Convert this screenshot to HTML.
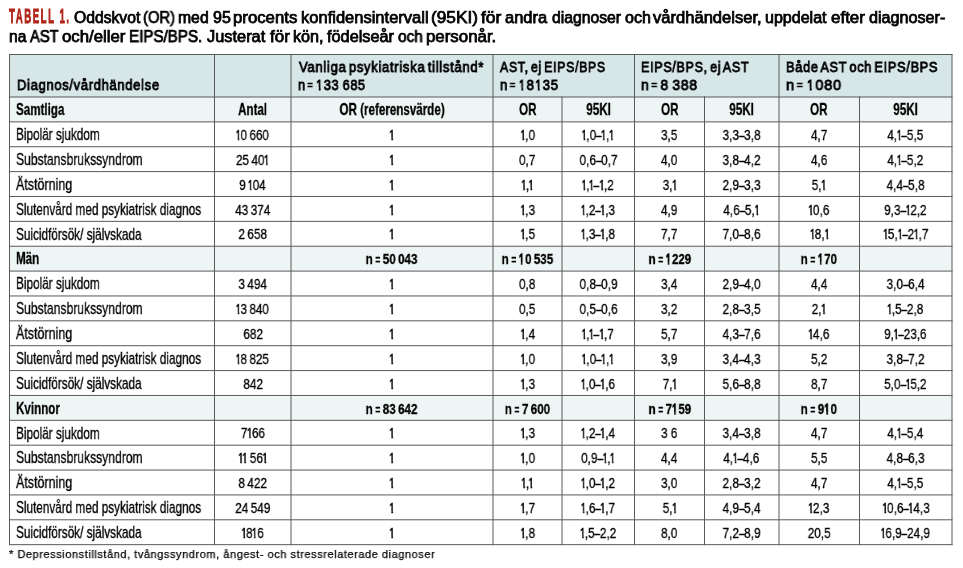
<!DOCTYPE html>
<html><head><meta charset="utf-8"><title>Tabell 1</title>
<style>
html,body{margin:0;padding:0;background:#fff;}
#pg{position:relative;width:963px;height:568px;overflow:hidden;background:#fff;font-family:"Liberation Sans", sans-serif;}
.t{position:absolute;white-space:pre;-webkit-text-stroke:0.3px currentColor;}
.t span{display:inline-block;will-change:transform;}
.t.c{width:400px;text-align:center;}
.d{display:inline-block;font-style:normal;transform:scaleX(0.85);margin:0 -0.8px;}
.oh{margin:0 0.01em !important;-webkit-text-stroke:0.07em #000 !important;}
.ob{-webkit-text-stroke:0.1em #000 !important;margin:0 0.02em 0 -0.04em !important;}
.eq{display:inline-block;font-style:normal;transform:scale(0.72,0.85);transform-origin:50% 0.6em;margin:0 -0.06em;}
.o{display:inline-block;font-style:normal;font-weight:400;transform:scale(0.8,0.96);transform-origin:50% 0.846em;margin:0 -0.087em;-webkit-text-stroke:0.05em #000;clip-path:polygon(0 -0.4em,100% -0.4em,100% 0.68em,68% 0.68em,68% 1.3em,38% 1.3em,38% 0.68em,0 0.68em);}
</style></head><body><div id="pg">
<svg width="963" height="568" style="position:absolute;left:0;top:0"><rect x="9.5" y="54.5" width="942.50" height="42.50" fill="#d7e6e6"/><rect x="9.5" y="97.0" width="942.50" height="24.87" fill="#eef5f5"/><rect x="9.5" y="246.22" width="942.50" height="24.87" fill="#eef5f5"/><rect x="9.5" y="395.44" width="942.50" height="24.87" fill="#eef5f5"/><rect x="9.00" y="54.00" width="943.50" height="1" fill="#5a5a5a"/><rect x="9.00" y="96.50" width="943.50" height="1" fill="#5a5a5a"/><rect x="9.00" y="121.37" width="943.50" height="1" fill="#5a5a5a"/><rect x="9.00" y="146.24" width="943.50" height="1" fill="#5a5a5a"/><rect x="9.00" y="171.11" width="943.50" height="1" fill="#5a5a5a"/><rect x="9.00" y="195.98" width="943.50" height="1" fill="#5a5a5a"/><rect x="9.00" y="220.85" width="943.50" height="1" fill="#5a5a5a"/><rect x="9.00" y="245.72" width="943.50" height="1" fill="#5a5a5a"/><rect x="9.00" y="270.59" width="943.50" height="1" fill="#5a5a5a"/><rect x="9.00" y="295.46" width="943.50" height="1" fill="#5a5a5a"/><rect x="9.00" y="320.33" width="943.50" height="1" fill="#5a5a5a"/><rect x="9.00" y="345.20" width="943.50" height="1" fill="#5a5a5a"/><rect x="9.00" y="370.07" width="943.50" height="1" fill="#5a5a5a"/><rect x="9.00" y="394.94" width="943.50" height="1" fill="#5a5a5a"/><rect x="9.00" y="419.81" width="943.50" height="1" fill="#5a5a5a"/><rect x="9.00" y="444.68" width="943.50" height="1" fill="#5a5a5a"/><rect x="9.00" y="469.55" width="943.50" height="1" fill="#5a5a5a"/><rect x="9.00" y="494.42" width="943.50" height="1" fill="#5a5a5a"/><rect x="9.00" y="519.29" width="943.50" height="1" fill="#5a5a5a"/><rect x="9.00" y="544.16" width="943.50" height="1" fill="#5a5a5a"/><rect x="9.00" y="54.00" width="1" height="491.16" fill="#5a5a5a"/><rect x="214.00" y="54.00" width="1" height="491.16" fill="#5a5a5a"/><rect x="290.50" y="54.00" width="1" height="491.16" fill="#5a5a5a"/><rect x="492.50" y="54.00" width="1" height="491.16" fill="#5a5a5a"/><rect x="561.50" y="96.50" width="1" height="448.66" fill="#5a5a5a"/><rect x="634.00" y="54.00" width="1" height="491.16" fill="#5a5a5a"/><rect x="704.00" y="96.50" width="1" height="448.66" fill="#5a5a5a"/><rect x="778.50" y="54.00" width="1" height="491.16" fill="#5a5a5a"/><rect x="859.00" y="96.50" width="1" height="448.66" fill="#5a5a5a"/><rect x="951.50" y="54.00" width="1" height="491.16" fill="#5a5a5a"/></svg>
<div class="t" style="left:9.00px;top:6.68px;font-size:19.4px;line-height:19.4px;font-weight:700;color:#b0261a"><span style="transform:scaleX(0.5);transform-origin:0 0;letter-spacing:3.0px;-webkit-text-stroke:0.8px currentColor;">TABELL 1.</span></div><div class="t" style="left:73.80px;top:9.99px;font-size:15.6px;line-height:15.6px;font-weight:400;color:#000"><span style="transform:scaleX(1.006);transform-origin:0 0;-webkit-text-stroke:0.75px currentColor;">Oddskvot</span></div><div class="t" style="left:143.25px;top:9.99px;font-size:15.6px;line-height:15.6px;font-weight:400;color:#000"><span style="transform:scaleX(0.95);transform-origin:0 0;-webkit-text-stroke:0.75px currentColor;">(OR)</span></div><div class="t" style="left:177.79px;top:9.99px;font-size:15.6px;line-height:15.6px;font-weight:400;color:#000"><span style="transform:scaleX(1.01);transform-origin:0 0;-webkit-text-stroke:0.75px currentColor;">med</span></div><div class="t" style="left:212.80px;top:9.99px;font-size:15.6px;line-height:15.6px;font-weight:400;color:#000"><span style="transform:scaleX(1.029);transform-origin:0 0;-webkit-text-stroke:0.75px currentColor;">95</span></div><div class="t" style="left:232.63px;top:9.99px;font-size:15.6px;line-height:15.6px;font-weight:400;color:#000"><span style="transform:scaleX(1.075);transform-origin:0 0;-webkit-text-stroke:0.75px currentColor;">procents</span></div><div class="t" style="left:300.74px;top:9.99px;font-size:15.6px;line-height:15.6px;font-weight:400;color:#000"><span style="transform:scaleX(1.059);transform-origin:0 0;-webkit-text-stroke:0.75px currentColor;">konfidensintervall</span></div><div class="t" style="left:431.40px;top:9.99px;font-size:15.6px;line-height:15.6px;font-weight:400;color:#000"><span style="transform:scaleX(1.105);transform-origin:0 0;-webkit-text-stroke:0.75px currentColor;">(95KI)</span></div><div class="t" style="left:481.10px;top:9.99px;font-size:15.6px;line-height:15.6px;font-weight:400;color:#000"><span style="transform:scaleX(1.12);transform-origin:0 0;-webkit-text-stroke:0.75px currentColor;">för</span></div><div class="t" style="left:504.70px;top:9.99px;font-size:15.6px;line-height:15.6px;font-weight:400;color:#000"><span style="transform:scaleX(1.055);transform-origin:0 0;-webkit-text-stroke:0.75px currentColor;">andra</span></div><div class="t" style="left:551.50px;top:9.99px;font-size:15.6px;line-height:15.6px;font-weight:400;color:#000"><span style="transform:scaleX(1.009);transform-origin:0 0;-webkit-text-stroke:0.75px currentColor;">diagnoser</span></div><div class="t" style="left:625.10px;top:9.99px;font-size:15.6px;line-height:15.6px;font-weight:400;color:#000"><span style="transform:scaleX(1.028);transform-origin:0 0;-webkit-text-stroke:0.75px currentColor;">och</span></div><div class="t" style="left:653.40px;top:9.99px;font-size:15.6px;line-height:15.6px;font-weight:400;color:#000"><span style="transform:scaleX(1.062);transform-origin:0 0;-webkit-text-stroke:0.75px currentColor;">vårdhändelser,</span></div><div class="t" style="left:765.07px;top:9.99px;font-size:15.6px;line-height:15.6px;font-weight:400;color:#000"><span style="transform:scaleX(1.029);transform-origin:0 0;-webkit-text-stroke:0.75px currentColor;">uppdelat</span></div><div class="t" style="left:830.80px;top:9.99px;font-size:15.6px;line-height:15.6px;font-weight:400;color:#000"><span style="transform:scaleX(1.087);transform-origin:0 0;-webkit-text-stroke:0.75px currentColor;">efter</span></div><div class="t" style="left:869.10px;top:9.99px;font-size:15.6px;line-height:15.6px;font-weight:400;color:#000"><span style="transform:scaleX(1.036);transform-origin:0 0;-webkit-text-stroke:0.75px currentColor;">diagnoser-</span></div><div class="t" style="left:8.71px;top:28.99px;font-size:15.6px;line-height:15.6px;font-weight:400;color:#000"><span style="transform:scaleX(0.994);transform-origin:0 0;-webkit-text-stroke:0.75px currentColor;">na</span></div><div class="t" style="left:30.00px;top:28.99px;font-size:15.6px;line-height:15.6px;font-weight:400;color:#000"><span style="transform:scaleX(0.943);transform-origin:0 0;-webkit-text-stroke:0.75px currentColor;">AST</span></div><div class="t" style="left:61.70px;top:28.99px;font-size:15.6px;line-height:15.6px;font-weight:400;color:#000"><span style="transform:scaleX(1.075);transform-origin:0 0;-webkit-text-stroke:0.75px currentColor;">och/eller</span></div><div class="t" style="left:129.13px;top:28.99px;font-size:15.6px;line-height:15.6px;font-weight:400;color:#000"><span style="transform:scaleX(0.971);transform-origin:0 0;-webkit-text-stroke:0.75px currentColor;">EIPS/BPS.</span></div><div class="t" style="left:206.70px;top:28.99px;font-size:15.6px;line-height:15.6px;font-weight:400;color:#000"><span style="transform:scaleX(1.05);transform-origin:0 0;-webkit-text-stroke:0.75px currentColor;">Justerat</span></div><div class="t" style="left:270.20px;top:28.99px;font-size:15.6px;line-height:15.6px;font-weight:400;color:#000"><span style="transform:scaleX(1.089);transform-origin:0 0;-webkit-text-stroke:0.75px currentColor;">för</span></div><div class="t" style="left:293.16px;top:28.99px;font-size:15.6px;line-height:15.6px;font-weight:400;color:#000"><span style="transform:scaleX(1.036);transform-origin:0 0;-webkit-text-stroke:0.75px currentColor;">kön,</span></div><div class="t" style="left:327.10px;top:28.99px;font-size:15.6px;line-height:15.6px;font-weight:400;color:#000"><span style="transform:scaleX(1.044);transform-origin:0 0;-webkit-text-stroke:0.75px currentColor;">födelseår</span></div><div class="t" style="left:397.50px;top:28.99px;font-size:15.6px;line-height:15.6px;font-weight:400;color:#000"><span style="transform:scaleX(0.984);transform-origin:0 0;-webkit-text-stroke:0.75px currentColor;">och</span></div><div class="t" style="left:425.52px;top:28.99px;font-size:15.6px;line-height:15.6px;font-weight:400;color:#000"><span style="transform:scaleX(1.081);transform-origin:0 0;-webkit-text-stroke:0.75px currentColor;">personår.</span></div><div class="t" style="left:17.15px;top:77.23px;font-size:15.2px;line-height:15.2px;font-weight:400;color:#000"><span style="transform:scaleX(0.854);transform-origin:0 0;letter-spacing:0.8px;word-spacing:-2.2px;-webkit-text-stroke:0.85px currentColor;">Diagnos/vårdhändelse</span></div><div class="t" style="left:298.70px;top:59.33px;font-size:15.2px;line-height:15.2px;font-weight:400;color:#000"><span style="transform:scaleX(0.86);transform-origin:0 0;letter-spacing:0.8px;word-spacing:-2.2px;-webkit-text-stroke:0.85px currentColor;">Vanliga psykiatriska tillstånd*</span></div><div class="t" style="left:298.08px;top:77.23px;font-size:15.2px;line-height:15.2px;font-weight:400;color:#000"><span style="transform:scaleX(0.8380079999999999);transform-origin:0 0;letter-spacing:0.8px;word-spacing:-2.2px;-webkit-text-stroke:0.85px currentColor;">n <i class="eq">=</i> <i class="o oh">1</i>33 685</span></div><div class="t" style="left:500.40px;top:59.33px;font-size:15.2px;line-height:15.2px;font-weight:400;color:#000"><span style="transform:scaleX(0.814);transform-origin:0 0;letter-spacing:0.8px;word-spacing:-2.2px;-webkit-text-stroke:0.85px currentColor;">AST, ej EIPS/BPS</span></div><div class="t" style="left:499.97px;top:77.23px;font-size:15.2px;line-height:15.2px;font-weight:400;color:#000"><span style="transform:scaleX(0.8631899999999999);transform-origin:0 0;letter-spacing:0.8px;word-spacing:-2.2px;-webkit-text-stroke:0.85px currentColor;">n <i class="eq">=</i> <i class="o oh">1</i>8<i class="o oh">1</i>35</span></div><div class="t" style="left:641.17px;top:59.33px;font-size:15.2px;line-height:15.2px;font-weight:400;color:#000"><span style="transform:scaleX(0.828);transform-origin:0 0;letter-spacing:0.8px;word-spacing:-2.2px;-webkit-text-stroke:0.85px currentColor;">EIPS/BPS, ej AST</span></div><div class="t" style="left:641.13px;top:77.23px;font-size:15.2px;line-height:15.2px;font-weight:400;color:#000"><span style="transform:scaleX(0.9157399999999999);transform-origin:0 0;letter-spacing:0.8px;word-spacing:-2.2px;-webkit-text-stroke:0.85px currentColor;">n <i class="eq">=</i> 8 388</span></div><div class="t" style="left:786.06px;top:59.33px;font-size:15.2px;line-height:15.2px;font-weight:400;color:#000"><span style="transform:scaleX(0.843);transform-origin:0 0;letter-spacing:0.8px;word-spacing:-2.2px;-webkit-text-stroke:0.85px currentColor;">Både AST och EIPS/BPS</span></div><div class="t" style="left:786.10px;top:77.23px;font-size:15.2px;line-height:15.2px;font-weight:400;color:#000"><span style="transform:scaleX(0.9545739999999999);transform-origin:0 0;letter-spacing:0.8px;word-spacing:-2.2px;-webkit-text-stroke:0.85px currentColor;">n <i class="eq">=</i> <i class="o oh">1</i>080</span></div><div class="t" style="left:16.40px;top:102.21px;font-size:15.7px;line-height:15.7px;font-weight:700;color:#000"><span style="transform:scaleX(0.74);transform-origin:0 0;">Samtliga</span></div><div class="t c" style="left:52.75px;top:102.21px;font-size:15.7px;line-height:15.7px;font-weight:700;color:#000"><span style="transform:scaleX(0.74);">Antal</span></div><div class="t c" style="left:192.00px;top:102.21px;font-size:15.7px;line-height:15.7px;font-weight:700;color:#000"><span style="transform:scaleX(0.74);">OR (referensvärde)</span></div><div class="t c" style="left:327.50px;top:102.21px;font-size:15.7px;line-height:15.7px;font-weight:700;color:#000"><span style="transform:scaleX(0.74);">OR</span></div><div class="t c" style="left:398.25px;top:102.21px;font-size:15.7px;line-height:15.7px;font-weight:700;color:#000"><span style="transform:scaleX(0.74);">95KI</span></div><div class="t c" style="left:469.50px;top:102.21px;font-size:15.7px;line-height:15.7px;font-weight:700;color:#000"><span style="transform:scaleX(0.74);">OR</span></div><div class="t c" style="left:541.75px;top:102.21px;font-size:15.7px;line-height:15.7px;font-weight:700;color:#000"><span style="transform:scaleX(0.74);">95KI</span></div><div class="t c" style="left:619.25px;top:102.21px;font-size:15.7px;line-height:15.7px;font-weight:700;color:#000"><span style="transform:scaleX(0.74);">OR</span></div><div class="t c" style="left:705.75px;top:102.21px;font-size:15.7px;line-height:15.7px;font-weight:700;color:#000"><span style="transform:scaleX(0.74);">95KI</span></div><div class="t" style="left:16.40px;top:127.08px;font-size:15.7px;line-height:15.7px;font-weight:400;color:#000"><span style="transform:scaleX(0.75);transform-origin:0 0;">Bipolär sjukdom</span></div><div class="t c" style="left:52.75px;top:128.01px;font-size:14.6px;line-height:14.6px;font-weight:400;color:#000"><span style="transform:scaleX(0.8065068493150684);"><i class="o">1</i>0 660</span></div><div class="t c" style="left:192.00px;top:128.01px;font-size:14.6px;line-height:14.6px;font-weight:400;color:#000"><span style="transform:scaleX(0.8065068493150684);"><i class="o">1</i></span></div><div class="t c" style="left:327.50px;top:128.01px;font-size:14.6px;line-height:14.6px;font-weight:400;color:#000"><span style="transform:scaleX(0.8065068493150684);"><i class="o">1</i>,0</span></div><div class="t c" style="left:398.25px;top:128.01px;font-size:14.6px;line-height:14.6px;font-weight:400;color:#000"><span style="transform:scaleX(0.8065068493150684);"><i class="o">1</i>,0<i class="d">–</i><i class="o">1</i>,<i class="o">1</i></span></div><div class="t c" style="left:469.50px;top:128.01px;font-size:14.6px;line-height:14.6px;font-weight:400;color:#000"><span style="transform:scaleX(0.8065068493150684);">3,5</span></div><div class="t c" style="left:541.75px;top:128.01px;font-size:14.6px;line-height:14.6px;font-weight:400;color:#000"><span style="transform:scaleX(0.8065068493150684);">3,3<i class="d">–</i>3,8</span></div><div class="t c" style="left:619.25px;top:128.01px;font-size:14.6px;line-height:14.6px;font-weight:400;color:#000"><span style="transform:scaleX(0.8065068493150684);">4,7</span></div><div class="t c" style="left:705.75px;top:128.01px;font-size:14.6px;line-height:14.6px;font-weight:400;color:#000"><span style="transform:scaleX(0.8065068493150684);">4,<i class="o">1</i><i class="d">–</i>5,5</span></div><div class="t" style="left:16.40px;top:151.95px;font-size:15.7px;line-height:15.7px;font-weight:400;color:#000"><span style="transform:scaleX(0.7725);transform-origin:0 0;">Substansbrukssyndrom</span></div><div class="t c" style="left:52.75px;top:152.88px;font-size:14.6px;line-height:14.6px;font-weight:400;color:#000"><span style="transform:scaleX(0.8065068493150684);">25 40<i class="o">1</i></span></div><div class="t c" style="left:192.00px;top:152.88px;font-size:14.6px;line-height:14.6px;font-weight:400;color:#000"><span style="transform:scaleX(0.8065068493150684);"><i class="o">1</i></span></div><div class="t c" style="left:327.50px;top:152.88px;font-size:14.6px;line-height:14.6px;font-weight:400;color:#000"><span style="transform:scaleX(0.8065068493150684);">0,7</span></div><div class="t c" style="left:398.25px;top:152.88px;font-size:14.6px;line-height:14.6px;font-weight:400;color:#000"><span style="transform:scaleX(0.8065068493150684);">0,6<i class="d">–</i>0,7</span></div><div class="t c" style="left:469.50px;top:152.88px;font-size:14.6px;line-height:14.6px;font-weight:400;color:#000"><span style="transform:scaleX(0.8065068493150684);">4,0</span></div><div class="t c" style="left:541.75px;top:152.88px;font-size:14.6px;line-height:14.6px;font-weight:400;color:#000"><span style="transform:scaleX(0.8065068493150684);">3,8<i class="d">–</i>4,2</span></div><div class="t c" style="left:619.25px;top:152.88px;font-size:14.6px;line-height:14.6px;font-weight:400;color:#000"><span style="transform:scaleX(0.8065068493150684);">4,6</span></div><div class="t c" style="left:705.75px;top:152.88px;font-size:14.6px;line-height:14.6px;font-weight:400;color:#000"><span style="transform:scaleX(0.8065068493150684);">4,<i class="o">1</i><i class="d">–</i>5,2</span></div><div class="t" style="left:16.40px;top:176.82px;font-size:15.7px;line-height:15.7px;font-weight:400;color:#000"><span style="transform:scaleX(0.795);transform-origin:0 0;">Ätstörning</span></div><div class="t c" style="left:52.75px;top:177.75px;font-size:14.6px;line-height:14.6px;font-weight:400;color:#000"><span style="transform:scaleX(0.8065068493150684);">9 <i class="o">1</i>04</span></div><div class="t c" style="left:192.00px;top:177.75px;font-size:14.6px;line-height:14.6px;font-weight:400;color:#000"><span style="transform:scaleX(0.8065068493150684);"><i class="o">1</i></span></div><div class="t c" style="left:327.50px;top:177.75px;font-size:14.6px;line-height:14.6px;font-weight:400;color:#000"><span style="transform:scaleX(0.8065068493150684);"><i class="o">1</i>,<i class="o">1</i></span></div><div class="t c" style="left:398.25px;top:177.75px;font-size:14.6px;line-height:14.6px;font-weight:400;color:#000"><span style="transform:scaleX(0.8065068493150684);"><i class="o">1</i>,<i class="o">1</i><i class="d">–</i><i class="o">1</i>,2</span></div><div class="t c" style="left:469.50px;top:177.75px;font-size:14.6px;line-height:14.6px;font-weight:400;color:#000"><span style="transform:scaleX(0.8065068493150684);">3,<i class="o">1</i></span></div><div class="t c" style="left:541.75px;top:177.75px;font-size:14.6px;line-height:14.6px;font-weight:400;color:#000"><span style="transform:scaleX(0.8065068493150684);">2,9<i class="d">–</i>3,3</span></div><div class="t c" style="left:619.25px;top:177.75px;font-size:14.6px;line-height:14.6px;font-weight:400;color:#000"><span style="transform:scaleX(0.8065068493150684);">5,<i class="o">1</i></span></div><div class="t c" style="left:705.75px;top:177.75px;font-size:14.6px;line-height:14.6px;font-weight:400;color:#000"><span style="transform:scaleX(0.8065068493150684);">4,4<i class="d">–</i>5,8</span></div><div class="t" style="left:16.40px;top:201.69px;font-size:15.7px;line-height:15.7px;font-weight:400;color:#000"><span style="transform:scaleX(0.75);transform-origin:0 0;">Slutenvård med psykiatrisk diagnos</span></div><div class="t c" style="left:52.75px;top:202.62px;font-size:14.6px;line-height:14.6px;font-weight:400;color:#000"><span style="transform:scaleX(0.8065068493150684);">43 374</span></div><div class="t c" style="left:192.00px;top:202.62px;font-size:14.6px;line-height:14.6px;font-weight:400;color:#000"><span style="transform:scaleX(0.8065068493150684);"><i class="o">1</i></span></div><div class="t c" style="left:327.50px;top:202.62px;font-size:14.6px;line-height:14.6px;font-weight:400;color:#000"><span style="transform:scaleX(0.8065068493150684);"><i class="o">1</i>,3</span></div><div class="t c" style="left:398.25px;top:202.62px;font-size:14.6px;line-height:14.6px;font-weight:400;color:#000"><span style="transform:scaleX(0.8065068493150684);"><i class="o">1</i>,2<i class="d">–</i><i class="o">1</i>,3</span></div><div class="t c" style="left:469.50px;top:202.62px;font-size:14.6px;line-height:14.6px;font-weight:400;color:#000"><span style="transform:scaleX(0.8065068493150684);">4,9</span></div><div class="t c" style="left:541.75px;top:202.62px;font-size:14.6px;line-height:14.6px;font-weight:400;color:#000"><span style="transform:scaleX(0.8065068493150684);">4,6<i class="d">–</i>5,<i class="o">1</i></span></div><div class="t c" style="left:619.25px;top:202.62px;font-size:14.6px;line-height:14.6px;font-weight:400;color:#000"><span style="transform:scaleX(0.8065068493150684);"><i class="o">1</i>0,6</span></div><div class="t c" style="left:705.75px;top:202.62px;font-size:14.6px;line-height:14.6px;font-weight:400;color:#000"><span style="transform:scaleX(0.8065068493150684);">9,3<i class="d">–</i><i class="o">1</i>2,2</span></div><div class="t" style="left:16.40px;top:226.56px;font-size:15.7px;line-height:15.7px;font-weight:400;color:#000"><span style="transform:scaleX(0.75);transform-origin:0 0;">Suicidförsök/ självskada</span></div><div class="t c" style="left:52.75px;top:227.49px;font-size:14.6px;line-height:14.6px;font-weight:400;color:#000"><span style="transform:scaleX(0.8065068493150684);">2 658</span></div><div class="t c" style="left:192.00px;top:227.49px;font-size:14.6px;line-height:14.6px;font-weight:400;color:#000"><span style="transform:scaleX(0.8065068493150684);"><i class="o">1</i></span></div><div class="t c" style="left:327.50px;top:227.49px;font-size:14.6px;line-height:14.6px;font-weight:400;color:#000"><span style="transform:scaleX(0.8065068493150684);"><i class="o">1</i>,5</span></div><div class="t c" style="left:398.25px;top:227.49px;font-size:14.6px;line-height:14.6px;font-weight:400;color:#000"><span style="transform:scaleX(0.8065068493150684);"><i class="o">1</i>,3<i class="d">–</i><i class="o">1</i>,8</span></div><div class="t c" style="left:469.50px;top:227.49px;font-size:14.6px;line-height:14.6px;font-weight:400;color:#000"><span style="transform:scaleX(0.8065068493150684);">7,7</span></div><div class="t c" style="left:541.75px;top:227.49px;font-size:14.6px;line-height:14.6px;font-weight:400;color:#000"><span style="transform:scaleX(0.8065068493150684);">7,0<i class="d">–</i>8,6</span></div><div class="t c" style="left:619.25px;top:227.49px;font-size:14.6px;line-height:14.6px;font-weight:400;color:#000"><span style="transform:scaleX(0.8065068493150684);"><i class="o">1</i>8,<i class="o">1</i></span></div><div class="t c" style="left:705.75px;top:227.49px;font-size:14.6px;line-height:14.6px;font-weight:400;color:#000"><span style="transform:scaleX(0.8065068493150684);"><i class="o">1</i>5,<i class="o">1</i><i class="d">–</i>2<i class="o">1</i>,7</span></div><div class="t" style="left:16.40px;top:251.43px;font-size:15.7px;line-height:15.7px;font-weight:700;color:#000"><span style="transform:scaleX(0.74);transform-origin:0 0;">Män</span></div><div class="t c" style="left:192.00px;top:252.36px;font-size:14.6px;line-height:14.6px;font-weight:700;color:#000"><span style="transform:scaleX(0.7957534246575342);">n <i class="eq">=</i> 50 043</span></div><div class="t c" style="left:327.50px;top:252.36px;font-size:14.6px;line-height:14.6px;font-weight:700;color:#000"><span style="transform:scaleX(0.7957534246575342);">n <i class="eq">=</i> <i class="o ob">1</i>0 535</span></div><div class="t c" style="left:469.50px;top:252.36px;font-size:14.6px;line-height:14.6px;font-weight:700;color:#000"><span style="transform:scaleX(0.7957534246575342);">n <i class="eq">=</i> <i class="o ob">1</i>229</span></div><div class="t c" style="left:619.25px;top:252.36px;font-size:14.6px;line-height:14.6px;font-weight:700;color:#000"><span style="transform:scaleX(0.7957534246575342);">n <i class="eq">=</i> <i class="o ob">1</i>70</span></div><div class="t" style="left:16.40px;top:276.30px;font-size:15.7px;line-height:15.7px;font-weight:400;color:#000"><span style="transform:scaleX(0.75);transform-origin:0 0;">Bipolär sjukdom</span></div><div class="t c" style="left:52.75px;top:277.23px;font-size:14.6px;line-height:14.6px;font-weight:400;color:#000"><span style="transform:scaleX(0.8065068493150684);">3 494</span></div><div class="t c" style="left:192.00px;top:277.23px;font-size:14.6px;line-height:14.6px;font-weight:400;color:#000"><span style="transform:scaleX(0.8065068493150684);"><i class="o">1</i></span></div><div class="t c" style="left:327.50px;top:277.23px;font-size:14.6px;line-height:14.6px;font-weight:400;color:#000"><span style="transform:scaleX(0.8065068493150684);">0,8</span></div><div class="t c" style="left:398.25px;top:277.23px;font-size:14.6px;line-height:14.6px;font-weight:400;color:#000"><span style="transform:scaleX(0.8065068493150684);">0,8<i class="d">–</i>0,9</span></div><div class="t c" style="left:469.50px;top:277.23px;font-size:14.6px;line-height:14.6px;font-weight:400;color:#000"><span style="transform:scaleX(0.8065068493150684);">3,4</span></div><div class="t c" style="left:541.75px;top:277.23px;font-size:14.6px;line-height:14.6px;font-weight:400;color:#000"><span style="transform:scaleX(0.8065068493150684);">2,9<i class="d">–</i>4,0</span></div><div class="t c" style="left:619.25px;top:277.23px;font-size:14.6px;line-height:14.6px;font-weight:400;color:#000"><span style="transform:scaleX(0.8065068493150684);">4,4</span></div><div class="t c" style="left:705.75px;top:277.23px;font-size:14.6px;line-height:14.6px;font-weight:400;color:#000"><span style="transform:scaleX(0.8065068493150684);">3,0<i class="d">–</i>6,4</span></div><div class="t" style="left:16.40px;top:301.17px;font-size:15.7px;line-height:15.7px;font-weight:400;color:#000"><span style="transform:scaleX(0.7725);transform-origin:0 0;">Substansbrukssyndrom</span></div><div class="t c" style="left:52.75px;top:302.10px;font-size:14.6px;line-height:14.6px;font-weight:400;color:#000"><span style="transform:scaleX(0.8065068493150684);"><i class="o">1</i>3 840</span></div><div class="t c" style="left:192.00px;top:302.10px;font-size:14.6px;line-height:14.6px;font-weight:400;color:#000"><span style="transform:scaleX(0.8065068493150684);"><i class="o">1</i></span></div><div class="t c" style="left:327.50px;top:302.10px;font-size:14.6px;line-height:14.6px;font-weight:400;color:#000"><span style="transform:scaleX(0.8065068493150684);">0,5</span></div><div class="t c" style="left:398.25px;top:302.10px;font-size:14.6px;line-height:14.6px;font-weight:400;color:#000"><span style="transform:scaleX(0.8065068493150684);">0,5<i class="d">–</i>0,6</span></div><div class="t c" style="left:469.50px;top:302.10px;font-size:14.6px;line-height:14.6px;font-weight:400;color:#000"><span style="transform:scaleX(0.8065068493150684);">3,2</span></div><div class="t c" style="left:541.75px;top:302.10px;font-size:14.6px;line-height:14.6px;font-weight:400;color:#000"><span style="transform:scaleX(0.8065068493150684);">2,8<i class="d">–</i>3,5</span></div><div class="t c" style="left:619.25px;top:302.10px;font-size:14.6px;line-height:14.6px;font-weight:400;color:#000"><span style="transform:scaleX(0.8065068493150684);">2,<i class="o">1</i></span></div><div class="t c" style="left:705.75px;top:302.10px;font-size:14.6px;line-height:14.6px;font-weight:400;color:#000"><span style="transform:scaleX(0.8065068493150684);"><i class="o">1</i>,5<i class="d">–</i>2,8</span></div><div class="t" style="left:16.40px;top:326.04px;font-size:15.7px;line-height:15.7px;font-weight:400;color:#000"><span style="transform:scaleX(0.795);transform-origin:0 0;">Ätstörning</span></div><div class="t c" style="left:52.75px;top:326.97px;font-size:14.6px;line-height:14.6px;font-weight:400;color:#000"><span style="transform:scaleX(0.8065068493150684);">682</span></div><div class="t c" style="left:192.00px;top:326.97px;font-size:14.6px;line-height:14.6px;font-weight:400;color:#000"><span style="transform:scaleX(0.8065068493150684);"><i class="o">1</i></span></div><div class="t c" style="left:327.50px;top:326.97px;font-size:14.6px;line-height:14.6px;font-weight:400;color:#000"><span style="transform:scaleX(0.8065068493150684);"><i class="o">1</i>,4</span></div><div class="t c" style="left:398.25px;top:326.97px;font-size:14.6px;line-height:14.6px;font-weight:400;color:#000"><span style="transform:scaleX(0.8065068493150684);"><i class="o">1</i>,<i class="o">1</i><i class="d">–</i><i class="o">1</i>,7</span></div><div class="t c" style="left:469.50px;top:326.97px;font-size:14.6px;line-height:14.6px;font-weight:400;color:#000"><span style="transform:scaleX(0.8065068493150684);">5,7</span></div><div class="t c" style="left:541.75px;top:326.97px;font-size:14.6px;line-height:14.6px;font-weight:400;color:#000"><span style="transform:scaleX(0.8065068493150684);">4,3<i class="d">–</i>7,6</span></div><div class="t c" style="left:619.25px;top:326.97px;font-size:14.6px;line-height:14.6px;font-weight:400;color:#000"><span style="transform:scaleX(0.8065068493150684);"><i class="o">1</i>4,6</span></div><div class="t c" style="left:705.75px;top:326.97px;font-size:14.6px;line-height:14.6px;font-weight:400;color:#000"><span style="transform:scaleX(0.8065068493150684);">9,<i class="o">1</i><i class="d">–</i>23,6</span></div><div class="t" style="left:16.40px;top:350.91px;font-size:15.7px;line-height:15.7px;font-weight:400;color:#000"><span style="transform:scaleX(0.75);transform-origin:0 0;">Slutenvård med psykiatrisk diagnos</span></div><div class="t c" style="left:52.75px;top:351.84px;font-size:14.6px;line-height:14.6px;font-weight:400;color:#000"><span style="transform:scaleX(0.8065068493150684);"><i class="o">1</i>8 825</span></div><div class="t c" style="left:192.00px;top:351.84px;font-size:14.6px;line-height:14.6px;font-weight:400;color:#000"><span style="transform:scaleX(0.8065068493150684);"><i class="o">1</i></span></div><div class="t c" style="left:327.50px;top:351.84px;font-size:14.6px;line-height:14.6px;font-weight:400;color:#000"><span style="transform:scaleX(0.8065068493150684);"><i class="o">1</i>,0</span></div><div class="t c" style="left:398.25px;top:351.84px;font-size:14.6px;line-height:14.6px;font-weight:400;color:#000"><span style="transform:scaleX(0.8065068493150684);"><i class="o">1</i>,0<i class="d">–</i><i class="o">1</i>,<i class="o">1</i></span></div><div class="t c" style="left:469.50px;top:351.84px;font-size:14.6px;line-height:14.6px;font-weight:400;color:#000"><span style="transform:scaleX(0.8065068493150684);">3,9</span></div><div class="t c" style="left:541.75px;top:351.84px;font-size:14.6px;line-height:14.6px;font-weight:400;color:#000"><span style="transform:scaleX(0.8065068493150684);">3,4<i class="d">–</i>4,3</span></div><div class="t c" style="left:619.25px;top:351.84px;font-size:14.6px;line-height:14.6px;font-weight:400;color:#000"><span style="transform:scaleX(0.8065068493150684);">5,2</span></div><div class="t c" style="left:705.75px;top:351.84px;font-size:14.6px;line-height:14.6px;font-weight:400;color:#000"><span style="transform:scaleX(0.8065068493150684);">3,8<i class="d">–</i>7,2</span></div><div class="t" style="left:16.40px;top:375.78px;font-size:15.7px;line-height:15.7px;font-weight:400;color:#000"><span style="transform:scaleX(0.75);transform-origin:0 0;">Suicidförsök/ självskada</span></div><div class="t c" style="left:52.75px;top:376.71px;font-size:14.6px;line-height:14.6px;font-weight:400;color:#000"><span style="transform:scaleX(0.8065068493150684);">842</span></div><div class="t c" style="left:192.00px;top:376.71px;font-size:14.6px;line-height:14.6px;font-weight:400;color:#000"><span style="transform:scaleX(0.8065068493150684);"><i class="o">1</i></span></div><div class="t c" style="left:327.50px;top:376.71px;font-size:14.6px;line-height:14.6px;font-weight:400;color:#000"><span style="transform:scaleX(0.8065068493150684);"><i class="o">1</i>,3</span></div><div class="t c" style="left:398.25px;top:376.71px;font-size:14.6px;line-height:14.6px;font-weight:400;color:#000"><span style="transform:scaleX(0.8065068493150684);"><i class="o">1</i>,0<i class="d">–</i><i class="o">1</i>,6</span></div><div class="t c" style="left:469.50px;top:376.71px;font-size:14.6px;line-height:14.6px;font-weight:400;color:#000"><span style="transform:scaleX(0.8065068493150684);">7,<i class="o">1</i></span></div><div class="t c" style="left:541.75px;top:376.71px;font-size:14.6px;line-height:14.6px;font-weight:400;color:#000"><span style="transform:scaleX(0.8065068493150684);">5,6<i class="d">–</i>8,8</span></div><div class="t c" style="left:619.25px;top:376.71px;font-size:14.6px;line-height:14.6px;font-weight:400;color:#000"><span style="transform:scaleX(0.8065068493150684);">8,7</span></div><div class="t c" style="left:705.75px;top:376.71px;font-size:14.6px;line-height:14.6px;font-weight:400;color:#000"><span style="transform:scaleX(0.8065068493150684);">5,0<i class="d">–</i><i class="o">1</i>5,2</span></div><div class="t" style="left:16.40px;top:400.65px;font-size:15.7px;line-height:15.7px;font-weight:700;color:#000"><span style="transform:scaleX(0.74);transform-origin:0 0;">Kvinnor</span></div><div class="t c" style="left:192.00px;top:401.58px;font-size:14.6px;line-height:14.6px;font-weight:700;color:#000"><span style="transform:scaleX(0.7957534246575342);">n <i class="eq">=</i> 83 642</span></div><div class="t c" style="left:327.50px;top:401.58px;font-size:14.6px;line-height:14.6px;font-weight:700;color:#000"><span style="transform:scaleX(0.7957534246575342);">n <i class="eq">=</i> 7 600</span></div><div class="t c" style="left:469.50px;top:401.58px;font-size:14.6px;line-height:14.6px;font-weight:700;color:#000"><span style="transform:scaleX(0.7957534246575342);">n <i class="eq">=</i> 7<i class="o ob">1</i>59</span></div><div class="t c" style="left:619.25px;top:401.58px;font-size:14.6px;line-height:14.6px;font-weight:700;color:#000"><span style="transform:scaleX(0.7957534246575342);">n <i class="eq">=</i> 9<i class="o ob">1</i>0</span></div><div class="t" style="left:16.40px;top:425.52px;font-size:15.7px;line-height:15.7px;font-weight:400;color:#000"><span style="transform:scaleX(0.75);transform-origin:0 0;">Bipolär sjukdom</span></div><div class="t c" style="left:52.75px;top:426.45px;font-size:14.6px;line-height:14.6px;font-weight:400;color:#000"><span style="transform:scaleX(0.8065068493150684);">7<i class="o">1</i>66</span></div><div class="t c" style="left:192.00px;top:426.45px;font-size:14.6px;line-height:14.6px;font-weight:400;color:#000"><span style="transform:scaleX(0.8065068493150684);"><i class="o">1</i></span></div><div class="t c" style="left:327.50px;top:426.45px;font-size:14.6px;line-height:14.6px;font-weight:400;color:#000"><span style="transform:scaleX(0.8065068493150684);"><i class="o">1</i>,3</span></div><div class="t c" style="left:398.25px;top:426.45px;font-size:14.6px;line-height:14.6px;font-weight:400;color:#000"><span style="transform:scaleX(0.8065068493150684);"><i class="o">1</i>,2<i class="d">–</i><i class="o">1</i>,4</span></div><div class="t c" style="left:469.50px;top:426.45px;font-size:14.6px;line-height:14.6px;font-weight:400;color:#000"><span style="transform:scaleX(0.8065068493150684);">3 6</span></div><div class="t c" style="left:541.75px;top:426.45px;font-size:14.6px;line-height:14.6px;font-weight:400;color:#000"><span style="transform:scaleX(0.8065068493150684);">3,4<i class="d">–</i>3,8</span></div><div class="t c" style="left:619.25px;top:426.45px;font-size:14.6px;line-height:14.6px;font-weight:400;color:#000"><span style="transform:scaleX(0.8065068493150684);">4,7</span></div><div class="t c" style="left:705.75px;top:426.45px;font-size:14.6px;line-height:14.6px;font-weight:400;color:#000"><span style="transform:scaleX(0.8065068493150684);">4,<i class="o">1</i><i class="d">–</i>5,4</span></div><div class="t" style="left:16.40px;top:450.39px;font-size:15.7px;line-height:15.7px;font-weight:400;color:#000"><span style="transform:scaleX(0.7725);transform-origin:0 0;">Substansbrukssyndrom</span></div><div class="t c" style="left:52.75px;top:451.32px;font-size:14.6px;line-height:14.6px;font-weight:400;color:#000"><span style="transform:scaleX(0.8065068493150684);"><i class="o">1</i><i class="o">1</i> 56<i class="o">1</i></span></div><div class="t c" style="left:192.00px;top:451.32px;font-size:14.6px;line-height:14.6px;font-weight:400;color:#000"><span style="transform:scaleX(0.8065068493150684);"><i class="o">1</i></span></div><div class="t c" style="left:327.50px;top:451.32px;font-size:14.6px;line-height:14.6px;font-weight:400;color:#000"><span style="transform:scaleX(0.8065068493150684);"><i class="o">1</i>,0</span></div><div class="t c" style="left:398.25px;top:451.32px;font-size:14.6px;line-height:14.6px;font-weight:400;color:#000"><span style="transform:scaleX(0.8065068493150684);">0,9<i class="d">–</i><i class="o">1</i>,<i class="o">1</i></span></div><div class="t c" style="left:469.50px;top:451.32px;font-size:14.6px;line-height:14.6px;font-weight:400;color:#000"><span style="transform:scaleX(0.8065068493150684);">4,4</span></div><div class="t c" style="left:541.75px;top:451.32px;font-size:14.6px;line-height:14.6px;font-weight:400;color:#000"><span style="transform:scaleX(0.8065068493150684);">4,<i class="o">1</i><i class="d">–</i>4,6</span></div><div class="t c" style="left:619.25px;top:451.32px;font-size:14.6px;line-height:14.6px;font-weight:400;color:#000"><span style="transform:scaleX(0.8065068493150684);">5,5</span></div><div class="t c" style="left:705.75px;top:451.32px;font-size:14.6px;line-height:14.6px;font-weight:400;color:#000"><span style="transform:scaleX(0.8065068493150684);">4,8<i class="d">–</i>6,3</span></div><div class="t" style="left:16.40px;top:475.26px;font-size:15.7px;line-height:15.7px;font-weight:400;color:#000"><span style="transform:scaleX(0.795);transform-origin:0 0;">Ätstörning</span></div><div class="t c" style="left:52.75px;top:476.19px;font-size:14.6px;line-height:14.6px;font-weight:400;color:#000"><span style="transform:scaleX(0.8065068493150684);">8 422</span></div><div class="t c" style="left:192.00px;top:476.19px;font-size:14.6px;line-height:14.6px;font-weight:400;color:#000"><span style="transform:scaleX(0.8065068493150684);"><i class="o">1</i></span></div><div class="t c" style="left:327.50px;top:476.19px;font-size:14.6px;line-height:14.6px;font-weight:400;color:#000"><span style="transform:scaleX(0.8065068493150684);"><i class="o">1</i>,<i class="o">1</i></span></div><div class="t c" style="left:398.25px;top:476.19px;font-size:14.6px;line-height:14.6px;font-weight:400;color:#000"><span style="transform:scaleX(0.8065068493150684);"><i class="o">1</i>,0<i class="d">–</i><i class="o">1</i>,2</span></div><div class="t c" style="left:469.50px;top:476.19px;font-size:14.6px;line-height:14.6px;font-weight:400;color:#000"><span style="transform:scaleX(0.8065068493150684);">3,0</span></div><div class="t c" style="left:541.75px;top:476.19px;font-size:14.6px;line-height:14.6px;font-weight:400;color:#000"><span style="transform:scaleX(0.8065068493150684);">2,8<i class="d">–</i>3,2</span></div><div class="t c" style="left:619.25px;top:476.19px;font-size:14.6px;line-height:14.6px;font-weight:400;color:#000"><span style="transform:scaleX(0.8065068493150684);">4,7</span></div><div class="t c" style="left:705.75px;top:476.19px;font-size:14.6px;line-height:14.6px;font-weight:400;color:#000"><span style="transform:scaleX(0.8065068493150684);">4,<i class="o">1</i><i class="d">–</i>5,5</span></div><div class="t" style="left:16.40px;top:500.13px;font-size:15.7px;line-height:15.7px;font-weight:400;color:#000"><span style="transform:scaleX(0.75);transform-origin:0 0;">Slutenvård med psykiatrisk diagnos</span></div><div class="t c" style="left:52.75px;top:501.06px;font-size:14.6px;line-height:14.6px;font-weight:400;color:#000"><span style="transform:scaleX(0.8065068493150684);">24 549</span></div><div class="t c" style="left:192.00px;top:501.06px;font-size:14.6px;line-height:14.6px;font-weight:400;color:#000"><span style="transform:scaleX(0.8065068493150684);"><i class="o">1</i></span></div><div class="t c" style="left:327.50px;top:501.06px;font-size:14.6px;line-height:14.6px;font-weight:400;color:#000"><span style="transform:scaleX(0.8065068493150684);"><i class="o">1</i>,7</span></div><div class="t c" style="left:398.25px;top:501.06px;font-size:14.6px;line-height:14.6px;font-weight:400;color:#000"><span style="transform:scaleX(0.8065068493150684);"><i class="o">1</i>,6<i class="d">–</i><i class="o">1</i>,7</span></div><div class="t c" style="left:469.50px;top:501.06px;font-size:14.6px;line-height:14.6px;font-weight:400;color:#000"><span style="transform:scaleX(0.8065068493150684);">5,<i class="o">1</i></span></div><div class="t c" style="left:541.75px;top:501.06px;font-size:14.6px;line-height:14.6px;font-weight:400;color:#000"><span style="transform:scaleX(0.8065068493150684);">4,9<i class="d">–</i>5,4</span></div><div class="t c" style="left:619.25px;top:501.06px;font-size:14.6px;line-height:14.6px;font-weight:400;color:#000"><span style="transform:scaleX(0.8065068493150684);"><i class="o">1</i>2,3</span></div><div class="t c" style="left:705.75px;top:501.06px;font-size:14.6px;line-height:14.6px;font-weight:400;color:#000"><span style="transform:scaleX(0.8065068493150684);"><i class="o">1</i>0,6<i class="d">–</i><i class="o">1</i>4,3</span></div><div class="t" style="left:16.40px;top:525.00px;font-size:15.7px;line-height:15.7px;font-weight:400;color:#000"><span style="transform:scaleX(0.75);transform-origin:0 0;">Suicidförsök/ självskada</span></div><div class="t c" style="left:52.75px;top:525.93px;font-size:14.6px;line-height:14.6px;font-weight:400;color:#000"><span style="transform:scaleX(0.8065068493150684);"><i class="o">1</i>8<i class="o">1</i>6</span></div><div class="t c" style="left:192.00px;top:525.93px;font-size:14.6px;line-height:14.6px;font-weight:400;color:#000"><span style="transform:scaleX(0.8065068493150684);"><i class="o">1</i></span></div><div class="t c" style="left:327.50px;top:525.93px;font-size:14.6px;line-height:14.6px;font-weight:400;color:#000"><span style="transform:scaleX(0.8065068493150684);"><i class="o">1</i>,8</span></div><div class="t c" style="left:398.25px;top:525.93px;font-size:14.6px;line-height:14.6px;font-weight:400;color:#000"><span style="transform:scaleX(0.8065068493150684);"><i class="o">1</i>,5<i class="d">–</i>2,2</span></div><div class="t c" style="left:469.50px;top:525.93px;font-size:14.6px;line-height:14.6px;font-weight:400;color:#000"><span style="transform:scaleX(0.8065068493150684);">8,0</span></div><div class="t c" style="left:541.75px;top:525.93px;font-size:14.6px;line-height:14.6px;font-weight:400;color:#000"><span style="transform:scaleX(0.8065068493150684);">7,2<i class="d">–</i>8,9</span></div><div class="t c" style="left:619.25px;top:525.93px;font-size:14.6px;line-height:14.6px;font-weight:400;color:#000"><span style="transform:scaleX(0.8065068493150684);">20,5</span></div><div class="t c" style="left:705.75px;top:525.93px;font-size:14.6px;line-height:14.6px;font-weight:400;color:#000"><span style="transform:scaleX(0.8065068493150684);"><i class="o">1</i>6,9<i class="d">–</i>24,9</span></div><div class="t" style="left:9.30px;top:548.28px;font-size:11.6px;line-height:11.6px;font-weight:400;color:#000"><span style="transform:scaleX(0.95);transform-origin:0 0;letter-spacing:0.58px;-webkit-text-stroke:0.25px currentColor;">* Depressionstillstånd, tvångssyndrom, ångest- och stressrelaterade diagnoser</span></div>
</div></body></html>
